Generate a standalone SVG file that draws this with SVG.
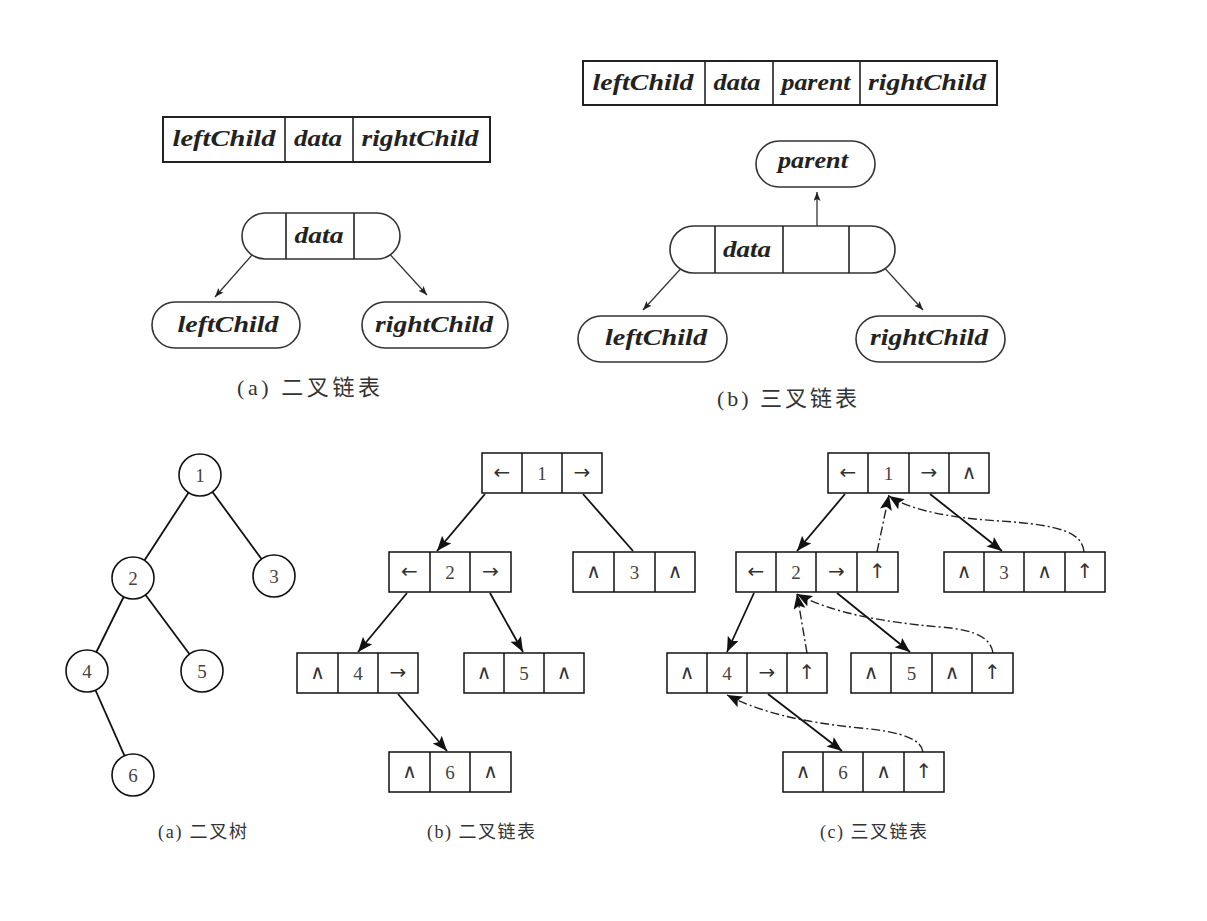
<svg xmlns="http://www.w3.org/2000/svg" width="1207" height="921" viewBox="0 0 1207 921">
<defs>
<marker id="ah" markerUnits="userSpaceOnUse" markerWidth="16" markerHeight="14" refX="15" refY="6" orient="auto"><path d="M0,0 L15,6 L0,12 L3,6 z" fill="#111"/></marker>
<marker id="sa" markerUnits="userSpaceOnUse" markerWidth="10" markerHeight="8" refX="9" refY="3.5" orient="auto"><path d="M0,0 L9,3.5 L0,7 L2,3.5 z" fill="#222"/></marker>
</defs>
<style>
.box{fill:#fff;stroke:#222;stroke-width:2}
.cap2{fill:#fff;stroke:#333;stroke-width:1.6}
.div{stroke:#222;stroke-width:1.6}
.it{font-family:"Liberation Serif",serif;font-style:italic;font-weight:bold;font-size:24px;fill:#222;text-anchor:middle}
.cell{fill:#fff;stroke:#111;stroke-width:1.5}
.num{font-family:"Liberation Serif",serif;font-size:19px;fill:#444;text-anchor:middle}
.sym{font-family:"DejaVu Sans",sans-serif;font-size:20px;fill:#333;text-anchor:middle}
.cap{font-family:"Liberation Serif","Noto Sans CJK SC",serif;fill:#333}
.edge{stroke:#111;stroke-width:1.8;fill:none;marker-end:url(#ah)}
.line{stroke:#111;stroke-width:1.8;fill:none}
.pedge{stroke:#222;stroke-width:1.4;fill:none;stroke-dasharray:9 3 2 3;marker-end:url(#ah)}
.thin{stroke:#333;stroke-width:1.3;fill:none;marker-end:url(#sa)}
.circ{fill:#fff;stroke:#111;stroke-width:1.6}
</style>
<rect width="1207" height="921" fill="#fff"/>

<g id="connectors">
  <line class="thin" x1="267" y1="238" x2="215" y2="297"/>
  <line class="thin" x1="375" y1="238" x2="427" y2="295"/>
  <line class="thin" x1="817" y1="250" x2="817" y2="192"/>
  <line class="thin" x1="696" y1="252" x2="643" y2="310"/>
  <line class="thin" x1="870" y1="252" x2="923" y2="310"/>
  <line class="line" x1="200" y1="475" x2="133" y2="578"/>
  <line class="line" x1="200" y1="475" x2="274" y2="576"/>
  <line class="line" x1="133" y1="578" x2="87" y2="671"/>
  <line class="line" x1="133" y1="578" x2="202" y2="671"/>
  <line class="line" x1="87" y1="671" x2="133" y2="775"/>
  <line class="edge" x1="485" y1="494" x2="437" y2="551"/>
  <line class="line" x1="583" y1="494" x2="633" y2="551"/>
  <line class="edge" x1="407" y1="593" x2="358" y2="652"/>
  <line class="edge" x1="490" y1="593" x2="523" y2="652"/>
  <line class="edge" x1="398" y1="694" x2="447" y2="751"/>
  <line class="edge" x1="845" y1="494" x2="797" y2="551"/>
  <line class="edge" x1="930" y1="494" x2="1002" y2="551"/>
  <line class="edge" x1="754" y1="593" x2="727" y2="652"/>
  <line class="edge" x1="837" y1="593" x2="910" y2="652"/>
  <line class="edge" x1="768" y1="694" x2="842" y2="751"/>
  <path class="pedge" d="M877,552 L889,495"/>
  <path class="pedge" d="M1084,552 C1082,532 1060,525 1000,521 C950,518 910,510 889,496"/>
  <path class="pedge" d="M807,653 L797,594"/>
  <path class="pedge" d="M993,653 C991,640 980,630 940,627 C880,622 830,612 797,594"/>
  <path class="pedge" d="M923,752 C921,740 905,732 860,728 C800,722 760,712 727,695"/>
</g>

<g id="rec-a">
  <rect class="box" x="163" y="117" width="327" height="45"/>
  <line class="div" x1="285" y1="117" x2="285" y2="162"/>
  <line class="div" x1="353" y1="117" x2="353" y2="162"/>
  <text class="it" x="224" y="146" textLength="103" lengthAdjust="spacingAndGlyphs">leftChild</text>
  <text class="it" x="318" y="146" textLength="48" lengthAdjust="spacingAndGlyphs">data</text>
  <text class="it" x="420" y="146" textLength="117" lengthAdjust="spacingAndGlyphs">rightChild</text>
</g>
<g id="node-a">
  <rect class="cap2" x="242" y="213" width="158" height="46" rx="23"/>
  <line class="div" x1="286" y1="213" x2="286" y2="259"/>
  <line class="div" x1="354" y1="213" x2="354" y2="259"/>
  <text class="it" x="319" y="243" textLength="49" lengthAdjust="spacingAndGlyphs">data</text>
</g>
<g id="left-a">
  <rect class="cap2" x="152" y="302" width="148" height="46" rx="23"/>
  <text class="it" x="228" y="332" textLength="101" lengthAdjust="spacingAndGlyphs">leftChild</text>
</g>
<g id="right-a">
  <rect class="cap2" x="362" y="302" width="146" height="46" rx="23"/>
  <text class="it" x="434" y="332" textLength="118" lengthAdjust="spacingAndGlyphs">rightChild</text>
</g>
<text id="cap-top-a" class="cap" x="237" y="395" font-size="22" textLength="143">(a) 二叉链表</text>

<g id="rec-b">
  <rect class="box" x="583" y="61" width="414" height="44"/>
  <line class="div" x1="705" y1="61" x2="705" y2="105"/>
  <line class="div" x1="773" y1="61" x2="773" y2="105"/>
  <line class="div" x1="860" y1="61" x2="860" y2="105"/>
  <text class="it" x="643" y="90" textLength="101" lengthAdjust="spacingAndGlyphs">leftChild</text>
  <text class="it" x="737" y="90" textLength="47" lengthAdjust="spacingAndGlyphs">data</text>
  <text class="it" x="816" y="90" textLength="69" lengthAdjust="spacingAndGlyphs">parent</text>
  <text class="it" x="927" y="90" textLength="118" lengthAdjust="spacingAndGlyphs">rightChild</text>
</g>
<g id="parent-b">
  <rect class="cap2" x="756" y="141" width="119" height="46" rx="23"/>
  <text class="it" x="813" y="168" textLength="70" lengthAdjust="spacingAndGlyphs">parent</text>
</g>
<g id="node-b">
  <rect class="cap2" x="670" y="226" width="225" height="47" rx="23.5"/>
  <line class="div" x1="715" y1="226" x2="715" y2="273"/>
  <line class="div" x1="783" y1="226" x2="783" y2="273"/>
  <line class="div" x1="849" y1="226" x2="849" y2="273"/>
  <text class="it" x="747" y="257" textLength="48" lengthAdjust="spacingAndGlyphs">data</text>
</g>
<g id="left-b">
  <rect class="cap2" x="578" y="316" width="149" height="46" rx="23"/>
  <text class="it" x="656" y="345" textLength="102" lengthAdjust="spacingAndGlyphs">leftChild</text>
</g>
<g id="right-b">
  <rect class="cap2" x="856" y="316" width="149" height="46" rx="23"/>
  <text class="it" x="929" y="345" textLength="118" lengthAdjust="spacingAndGlyphs">rightChild</text>
</g>
<text id="cap-top-b" class="cap" x="717" y="406" font-size="22" textLength="140">(b) 三叉链表</text>

<g id="t1"><circle class="circ" cx="200" cy="475" r="21"/><text class="num" x="200" y="482">1</text></g>
<g id="t2"><circle class="circ" cx="133" cy="578" r="21"/><text class="num" x="133" y="585">2</text></g>
<g id="t3"><circle class="circ" cx="274" cy="576" r="21"/><text class="num" x="274" y="583">3</text></g>
<g id="t4"><circle class="circ" cx="87" cy="671" r="21"/><text class="num" x="87" y="678">4</text></g>
<g id="t5"><circle class="circ" cx="202" cy="671" r="21"/><text class="num" x="202" y="678">5</text></g>
<g id="t6"><circle class="circ" cx="133" cy="775" r="21"/><text class="num" x="133" y="782">6</text></g>
<text id="cap-a" class="cap" x="158" y="838" font-size="18" textLength="89">(a) 二叉树</text>

<g id="b1">
  <rect class="cell" x="482" y="453" width="120" height="40"/>
  <line class="cell" x1="522" y1="453" x2="522" y2="493"/><line class="cell" x1="562" y1="453" x2="562" y2="493"/>
  <text class="sym" x="502" y="479">←</text><text class="num" x="542" y="480">1</text><text class="sym" x="582" y="479">→</text>
</g>
<g id="b2">
  <rect class="cell" x="389" y="552" width="122" height="40"/>
  <line class="cell" x1="430" y1="552" x2="430" y2="592"/><line class="cell" x1="470" y1="552" x2="470" y2="592"/>
  <text class="sym" x="409.5" y="578">←</text><text class="num" x="450" y="579">2</text><text class="sym" x="490.5" y="578">→</text>
</g>
<g id="b3">
  <rect class="cell" x="573" y="552" width="122" height="40"/>
  <line class="cell" x1="614" y1="552" x2="614" y2="592"/><line class="cell" x1="655" y1="552" x2="655" y2="592"/>
  <text class="sym" x="593.5" y="578">∧</text><text class="num" x="634.5" y="579">3</text><text class="sym" x="675" y="578">∧</text>
</g>
<g id="b4">
  <rect class="cell" x="297" y="653" width="121" height="40"/>
  <line class="cell" x1="338" y1="653" x2="338" y2="693"/><line class="cell" x1="378" y1="653" x2="378" y2="693"/>
  <text class="sym" x="317.5" y="679">∧</text><text class="num" x="358" y="680">4</text><text class="sym" x="398" y="679">→</text>
</g>
<g id="b5">
  <rect class="cell" x="464" y="653" width="120" height="40"/>
  <line class="cell" x1="504" y1="653" x2="504" y2="693"/><line class="cell" x1="544" y1="653" x2="544" y2="693"/>
  <text class="sym" x="484" y="679">∧</text><text class="num" x="524" y="680">5</text><text class="sym" x="564" y="679">∧</text>
</g>
<g id="b6">
  <rect class="cell" x="389" y="752" width="122" height="40"/>
  <line class="cell" x1="430" y1="752" x2="430" y2="792"/><line class="cell" x1="470" y1="752" x2="470" y2="792"/>
  <text class="sym" x="409.5" y="778">∧</text><text class="num" x="450" y="779">6</text><text class="sym" x="490.5" y="778">∧</text>
</g>
<text id="cap-b" class="cap" x="427" y="838" font-size="18" textLength="108">(b) 二叉链表</text>

<g id="c1">
  <rect class="cell" x="828" y="453" width="161" height="40"/>
  <line class="cell" x1="868" y1="453" x2="868" y2="493"/><line class="cell" x1="909" y1="453" x2="909" y2="493"/><line class="cell" x1="949" y1="453" x2="949" y2="493"/>
  <text class="sym" x="848" y="479">←</text><text class="num" x="888.5" y="480">1</text><text class="sym" x="929" y="479">→</text><text class="sym" x="969" y="479">∧</text>
</g>
<g id="c2">
  <rect class="cell" x="736" y="552" width="162" height="40"/>
  <line class="cell" x1="776" y1="552" x2="776" y2="592"/><line class="cell" x1="816" y1="552" x2="816" y2="592"/><line class="cell" x1="857" y1="552" x2="857" y2="592"/>
  <text class="sym" x="756" y="578">←</text><text class="num" x="796" y="579">2</text><text class="sym" x="836.5" y="578">→</text><text class="sym" x="877.5" y="578">↑</text>
</g>
<g id="c3">
  <rect class="cell" x="944" y="552" width="161" height="40"/>
  <line class="cell" x1="984" y1="552" x2="984" y2="592"/><line class="cell" x1="1024" y1="552" x2="1024" y2="592"/><line class="cell" x1="1065" y1="552" x2="1065" y2="592"/>
  <text class="sym" x="964" y="578">∧</text><text class="num" x="1004" y="579">3</text><text class="sym" x="1044.5" y="578">∧</text><text class="sym" x="1085" y="578">↑</text>
</g>
<g id="c4">
  <rect class="cell" x="667" y="653" width="160" height="40"/>
  <line class="cell" x1="707" y1="653" x2="707" y2="693"/><line class="cell" x1="747" y1="653" x2="747" y2="693"/><line class="cell" x1="787" y1="653" x2="787" y2="693"/>
  <text class="sym" x="687" y="679">∧</text><text class="num" x="727" y="680">4</text><text class="sym" x="767" y="679">→</text><text class="sym" x="807" y="679">↑</text>
</g>
<g id="c5">
  <rect class="cell" x="851" y="653" width="162" height="40"/>
  <line class="cell" x1="891" y1="653" x2="891" y2="693"/><line class="cell" x1="932" y1="653" x2="932" y2="693"/><line class="cell" x1="972" y1="653" x2="972" y2="693"/>
  <text class="sym" x="871" y="679">∧</text><text class="num" x="911.5" y="680">5</text><text class="sym" x="952" y="679">∧</text><text class="sym" x="992.5" y="679">↑</text>
</g>
<g id="c6">
  <rect class="cell" x="783" y="752" width="161" height="40"/>
  <line class="cell" x1="823" y1="752" x2="823" y2="792"/><line class="cell" x1="863" y1="752" x2="863" y2="792"/><line class="cell" x1="904" y1="752" x2="904" y2="792"/>
  <text class="sym" x="803" y="778">∧</text><text class="num" x="843" y="779">6</text><text class="sym" x="883.5" y="778">∧</text><text class="sym" x="924" y="778">↑</text>
</g>
<text id="cap-c" class="cap" x="820" y="838" font-size="18" textLength="107">(c) 三叉链表</text>
</svg>
